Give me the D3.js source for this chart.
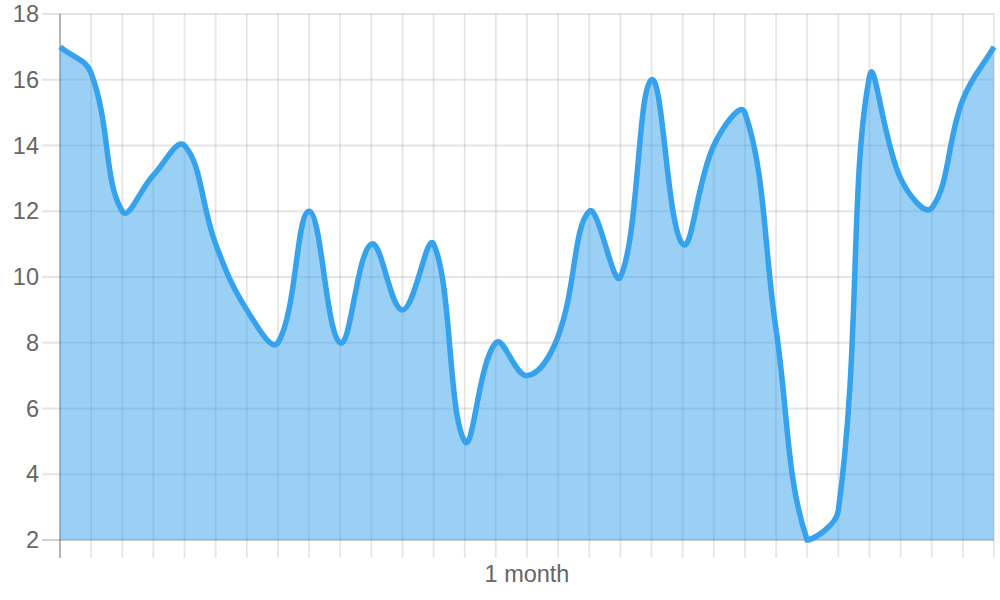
<!DOCTYPE html>
<html>
<head>
<meta charset="utf-8">
<script src="https://cdn.jsdelivr.net/npm/d3@7"></script>
<style>
  html, body { margin: 0; padding: 0; background: #fff; }
  svg { display: block; font-family: "Liberation Sans", Arial, sans-serif; }
</style>
</head>
<body>
<div id="chart"></div>
<script>
// one point per day, only the middle day carries a label
const days = [1, 2, 3, 4, 5, 6, 7, 8, 9, 10, 11, 12, 13, 14, 15, 16,
              17, 18, 19, 20, 21, 22, 23, 24, 25, 26, 27, 28, 29, 30, 31];
const dayLabels = ["", "", "", "", "", "", "", "", "", "", "", "", "", "", "", "1 month",
                   "", "", "", "", "", "", "", "", "", "", "", "", "", "", ""];
const values = [17, 16.2, 12, 13.1, 14, 11, 9, 8, 12, 8, 11, 9, 11, 5, 8, 7,
                8.2, 12, 10, 16, 11, 14, 15, 8.4, 2, 2.9, 16.1, 13, 12.1, 15.4, 17];
const yTicks = [2, 4, 6, 8, 10, 12, 14, 16, 18];

const width = 1000, height = 600;
const plotLeft = 60, plotRight = 994, plotTop = 14, plotBottom = 540;
const tickLen = 18;

const x = d3.scalePoint().domain(days).range([plotLeft, plotRight]);
const y = d3.scaleLinear().domain([2, 18]).range([plotBottom, plotTop]);

// spline like the canvas chart lib: tension 0.4, control points kept inside the plot
function splineCurve(tension, box) {
  const cap = (px, py) => [Math.max(box[0], Math.min(box[2], px)), Math.max(box[1], Math.min(box[3], py))];
  function Curve(context) { this._context = context; }
  Curve.prototype = {
    areaStart() { this._line = 0; },
    areaEnd() { this._line = NaN; },
    lineStart() { this._pts = []; },
    point(px, py) { this._pts.push([+px, +py]); },
    lineEnd() {
      const p = this._pts, n = p.length, c = this._context;
      if (n) {
        const cps = p.map((cur, i) => {
          const prev = p[Math.max(i - 1, 0)], next = p[Math.min(i + 1, n - 1)];
          const d01 = Math.hypot(cur[0] - prev[0], cur[1] - prev[1]);
          const d12 = Math.hypot(next[0] - cur[0], next[1] - cur[1]);
          let s01 = d01 / (d01 + d12), s12 = d12 / (d01 + d12);
          if (isNaN(s01)) s01 = 0;
          if (isNaN(s12)) s12 = 0;
          const fa = tension * s01, fb = tension * s12;
          return {
            a: cap(cur[0] - fa * (next[0] - prev[0]), cur[1] - fa * (next[1] - prev[1])),
            b: cap(cur[0] + fb * (next[0] - prev[0]), cur[1] + fb * (next[1] - prev[1]))
          };
        });
        this._line ? c.lineTo(p[0][0], p[0][1]) : c.moveTo(p[0][0], p[0][1]);
        for (let i = 1; i < n; i++) {
          c.bezierCurveTo(cps[i - 1].b[0], cps[i - 1].b[1], cps[i].a[0], cps[i].a[1], p[i][0], p[i][1]);
        }
      }
      if (this._line || (this._line !== 0 && n === 1)) c.closePath();
      this._line = 1 - this._line;
    }
  };
  return context => new Curve(context);
}

const curve = splineCurve(0.4, [plotLeft, plotTop, plotRight, plotBottom]);

const svg = d3.select("#chart").append("svg")
    .attr("width", width)
    .attr("height", height);

// horizontal grid
svg.append("g").selectAll("line")
  .data(yTicks)
  .enter().append("line")
    .attr("x1", plotLeft - tickLen)
    .attr("x2", plotRight)
    .attr("y1", d => y(d))
    .attr("y2", d => y(d))
    .attr("stroke", d => d === 2 ? "rgba(0,0,0,0.19)" : "rgba(0,0,0,0.1)")
    .attr("stroke-width", 1.8);

// vertical grid
svg.append("g").selectAll("line")
  .data(days)
  .enter().append("line")
    .attr("x1", d => x(d))
    .attr("x2", d => x(d))
    .attr("y1", plotTop)
    .attr("y2", plotBottom + tickLen)
    .attr("stroke", (d, i) => i === 0 ? "rgba(0,0,0,0.32)" : "rgba(0,0,0,0.1)")
    .attr("stroke-width", 1.8);

// y labels
svg.append("g").selectAll("text")
  .data(yTicks)
  .enter().append("text")
    .attr("x", plotLeft - tickLen - 3)
    .attr("y", d => y(d))
    .attr("dy", "0.35em")
    .attr("text-anchor", "end")
    .attr("font-size", 23.5)
    .attr("fill", "#666")
    .text(d => d);

// x labels
svg.append("g").selectAll("text")
  .data(days.filter((d, i) => dayLabels[i] !== ""))
  .enter().append("text")
    .attr("x", d => x(d))
    .attr("y", 582)
    .attr("text-anchor", "middle")
    .attr("font-size", 23.5)
    .attr("fill", "#666")
    .text(d => dayLabels[days.indexOf(d)]);

const area = d3.area()
    .x((d, i) => x(days[i]))
    .y0(plotBottom)
    .y1(d => y(d))
    .curve(curve);

const line = d3.line()
    .x((d, i) => x(days[i]))
    .y(d => y(d))
    .curve(curve);

svg.append("path")
    .datum(values)
    .attr("d", area)
    .attr("fill", "rgba(54,162,235,0.5)");

svg.append("path")
    .datum(values)
    .attr("d", line)
    .attr("fill", "none")
    .attr("stroke", "#36a2eb")
    .attr("stroke-width", 5.5);
</script>
</body>
</html>
